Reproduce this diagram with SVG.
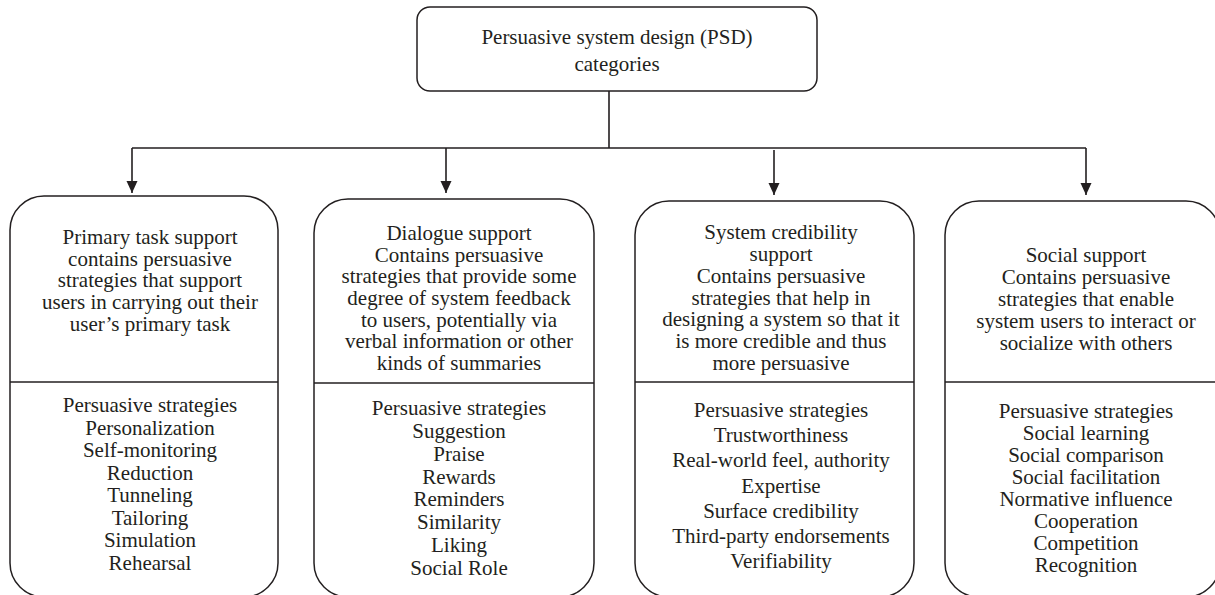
<svg xmlns="http://www.w3.org/2000/svg" width="1215" height="595" viewBox="0 0 1215 595">
<style>
.box{fill:#fff;stroke:#231f20;stroke-width:1.5}
.div{stroke:#231f20;stroke-width:1.5}
.con{stroke:#231f20;stroke-width:1.6;fill:none}
text{font-family:"Liberation Serif","Times New Roman",serif;font-size:21px;fill:#231f20;text-anchor:middle}
</style>
<defs>
<marker id="ah" markerWidth="12" markerHeight="12" viewBox="0 0 12 12" refX="12" refY="6" orient="auto" markerUnits="userSpaceOnUse">
<path d="M0,0.5 L12,6 L0,11.5 z" fill="#231f20"/>
</marker>
</defs>
<rect width="1215" height="595" fill="#fff"/>
<g id="connectors">
<path class="con" d="M609,91 V148 M132,148 H1086"/>
<path class="con" d="M132,148 V193" marker-end="url(#ah)"/>
<path class="con" d="M446,148 V193" marker-end="url(#ah)"/>
<path class="con" d="M774,150 V195" marker-end="url(#ah)"/>
<path class="con" d="M1086,148 V195" marker-end="url(#ah)"/>
</g>
<g id="root">
<rect class="box" x="417" y="7" width="400" height="84" rx="13"/>
<text x="617" y="44">Persuasive system design (PSD)</text>
<text x="617" y="71">categories</text>
</g>
<g id="primary">
<rect class="box" x="10" y="196" width="268" height="401" rx="34"/>
<line class="div" x1="10" y1="382" x2="278" y2="382"/>
<text x="150"><tspan x="150" y="244">Primary task support</tspan><tspan x="150" y="265.7">contains persuasive</tspan><tspan x="150" y="287.3">strategies that support</tspan><tspan x="150" y="309">users in carrying out their</tspan><tspan x="150" y="330.7">user’s primary task</tspan></text>
<text x="150"><tspan x="150" y="412">Persuasive strategies</tspan><tspan x="150" y="434.6">Personalization</tspan><tspan x="150" y="457.1">Self-monitoring</tspan><tspan x="150" y="479.7">Reduction</tspan><tspan x="150" y="502.3">Tunneling</tspan><tspan x="150" y="524.9">Tailoring</tspan><tspan x="150" y="547.4">Simulation</tspan><tspan x="150" y="570">Rehearsal</tspan></text>
</g>
<g id="dialogue">
<rect class="box" x="314" y="199" width="280" height="398" rx="34"/>
<line class="div" x1="314" y1="383" x2="594" y2="383"/>
<text x="459"><tspan x="459" y="240">Dialogue support</tspan><tspan x="459" y="261.7">Contains persuasive</tspan><tspan x="459" y="283.3">strategies that provide some</tspan><tspan x="459" y="305">degree of system feedback</tspan><tspan x="459" y="326.7">to users, potentially via</tspan><tspan x="459" y="348.3">verbal information or other</tspan><tspan x="459" y="370">kinds of summaries</tspan></text>
<text x="459"><tspan x="459" y="415">Persuasive strategies</tspan><tspan x="459" y="437.9">Suggestion</tspan><tspan x="459" y="460.7">Praise</tspan><tspan x="459" y="483.6">Rewards</tspan><tspan x="459" y="506.4">Reminders</tspan><tspan x="459" y="529.3">Similarity</tspan><tspan x="459" y="552.1">Liking</tspan><tspan x="459" y="575">Social Role</tspan></text>
</g>
<g id="credibility">
<rect class="box" x="635" y="201" width="279" height="396" rx="34"/>
<line class="div" x1="635" y1="382" x2="914" y2="382"/>
<text x="781"><tspan x="781" y="239">System credibility</tspan><tspan x="781" y="260.8">support</tspan><tspan x="781" y="282.7">Contains persuasive</tspan><tspan x="781" y="304.5">strategies that help in</tspan><tspan x="781" y="326.3">designing a system so that it</tspan><tspan x="781" y="348.2">is more credible and thus</tspan><tspan x="781" y="370">more persuasive</tspan></text>
<text x="781"><tspan x="781" y="417">Persuasive strategies</tspan><tspan x="781" y="442.2">Trustworthiness</tspan><tspan x="781" y="467.3">Real-world feel, authority</tspan><tspan x="781" y="492.5">Expertise</tspan><tspan x="781" y="517.7">Surface credibility</tspan><tspan x="781" y="542.8">Third-party endorsements</tspan><tspan x="781" y="568">Verifiability</tspan></text>
</g>
<g id="social">
<rect class="box" x="945" y="201" width="275" height="396" rx="34"/>
<line class="div" x1="945" y1="382" x2="1215" y2="382"/>
<text x="1086"><tspan x="1086" y="262">Social support</tspan><tspan x="1086" y="284">Contains persuasive</tspan><tspan x="1086" y="306">strategies that enable</tspan><tspan x="1086" y="328">system users to interact or</tspan><tspan x="1086" y="350">socialize with others</tspan></text>
<text x="1086"><tspan x="1086" y="418">Persuasive strategies</tspan><tspan x="1086" y="440">Social learning</tspan><tspan x="1086" y="462">Social comparison</tspan><tspan x="1086" y="484">Social facilitation</tspan><tspan x="1086" y="506">Normative influence</tspan><tspan x="1086" y="528">Cooperation</tspan><tspan x="1086" y="550">Competition</tspan><tspan x="1086" y="572">Recognition</tspan></text>
</g>
</svg>
